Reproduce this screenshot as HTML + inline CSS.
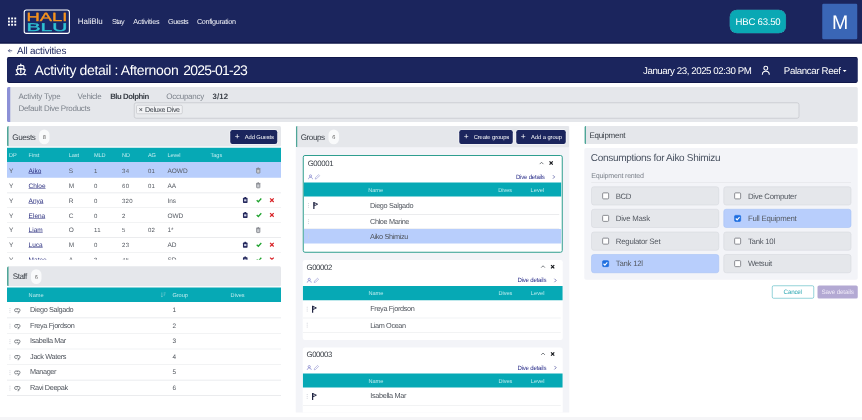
<!DOCTYPE html>
<html lang="en">
<head>
<meta charset="utf-8">
<title>Activity detail</title>
<style>
*{box-sizing:border-box;margin:0;padding:0}
html,body{width:862px;height:420px;overflow:hidden;background:#fff}
#pg{left:0;top:0;width:3448px;height:1680px;transform:scale(0.25);transform-origin:0 0}
body{font-family:"Liberation Sans",sans-serif;text-rendering:geometricPrecision;color:#4a4f57;position:relative;font-size:25.2px;line-height:1}
div{position:absolute}
.t{position:absolute;white-space:pre;line-height:1}
svg{display:block;position:absolute;overflow:visible}
#nav{background:#1b255d;border-bottom:4.8px solid #0c1342;color:#f4f5fa}
#title{background:#1b255d;border-radius:9.6px;color:#fff;box-shadow:inset 0 4px 0 #10184a,inset 0 -4px 0 #10184a}
#info{background:#e5e7eb;border-left:14.4px solid #8c90d6;border-radius:6px;color:#7d838c}
#info .b{color:#3b4048}
#sel{border:2.8px solid #b4b7bd;border-radius:8.8px;background:#e8eaed}
#tag{border:2px solid #b4b6ba;border-radius:5.6px;background:#f1f2f4}
.ph{background:#e5e7eb;border-left:7.2px solid #4fa698;border-radius:6px;color:#3b4048}
.badge{border-radius:21.2px;background:#f9fafb;color:#666}
.btn{border-radius:8.8px;background:#1b255d;color:#fff;box-shadow:0 0 0 3.2px #f4f5f8}
.th{background:#06a9b5;color:#bdebee}
.ln{background:#e4e6e9;height:2.4px}
.hl{background:#b8cefc}
a.t{color:#2b2f7f;text-decoration:underline}
#left{overflow:hidden;color:#565b63}
.s{color:#4f545c}
#mid{background:#f3f4f8;overflow:hidden;color:#4f545c}
.gt{color:#3b4048}
.dd{color:#2b2f8a}
.card{background:#fff;border-radius:8.8px;overflow:hidden}
.card.sel{border:4.8px solid #2f9e8f}
#eqp{background:#f3f4f8;border-radius:8px}
.eq{border-radius:10.4px;background:#e5e7eb;border:2px solid #d2d5da}
.eq.on{background:#b8cefc;border-color:#9fbdf5}
.cb{border:3.6px solid #696c73;border-radius:5.2px;background:#fff}
.eq.on .cb{background:#1f6fe0;border-color:#1f6fe0}
#right{color:#555a62}
#foot{background:#f5f5f7}
</style>
</head>
<body>
<div id="pg">
<div id="nav" style="left:0px;top:0px;width:3448px;height:173.6px;"><svg style="left:31.6px;top:70px" width="32.8" height="32.8" viewBox="0 0 8.2 8.2"><g fill="#fff"><rect x="0" y="0" width="1.9" height="1.9"/><rect x="3.15" y="0" width="1.9" height="1.9"/><rect x="6.3" y="0" width="1.9" height="1.9"/><rect x="0" y="3.15" width="1.9" height="1.9"/><rect x="3.15" y="3.15" width="1.9" height="1.9"/><rect x="6.3" y="3.15" width="1.9" height="1.9"/><rect x="0" y="6.3" width="1.9" height="1.9"/><rect x="3.15" y="6.3" width="1.9" height="1.9"/><rect x="6.3" y="6.3" width="1.9" height="1.9"/></g></svg>
<svg style="left:94.4px;top:36.8px" width="186.4" height="99.2" viewBox="0 0 46.6 24.8">
<rect x=".7" y=".7" width="45.2" height="23.4" rx="2.2" fill="#1a2866" stroke="#fff" stroke-width="1.1"/>
<text x="3.1" y="11.7" font-family="Liberation Sans, sans-serif" font-size="11.9" fill="#f7931e" stroke="#f7931e" stroke-width=".35" textLength="40.8" lengthAdjust="spacingAndGlyphs">HALI</text>
<text x="3.1" y="21.6" font-family="Liberation Sans, sans-serif" font-size="11.4" fill="#2fc3d4" stroke="#2fc3d4" stroke-width=".35" textLength="40.8" lengthAdjust="spacingAndGlyphs">BLU</text>
</svg>
<span class="t" style="left:311.2px;top:69px;font-size:32px;letter-spacing:-0.24px">HaliBlu</span>
<span class="t" style="left:447.6px;top:73px;font-size:28.8px;letter-spacing:-2.16px">Stay</span>
<span class="t" style="left:532.8px;top:73px;font-size:28.8px;letter-spacing:-0.92px">Activities</span>
<span class="t" style="left:672px;top:73px;font-size:28.8px;letter-spacing:-1.68px">Guests</span>
<span class="t" style="left:787.6px;top:73px;font-size:28.8px;letter-spacing:-1.28px">Configuration</span>
<div style="left:2920.4px;top:40.4px;width:222.4px;height:91.6px;border-radius:28px;background:#0aa8b4;box-shadow:0 0 0 1.2px #3fbcc5"><span class="t" style="left:22px;top:29px;font-size:38.4px;letter-spacing:-0.92px;color:#fff">HBC 63.50</span>
</div>
<div style="left:3288.8px;top:15.2px;width:140px;height:142px;background:#3a66b6;border-radius:4.8px"><span class="t" style="left:39.2px;top:34.8px;font-size:78px;letter-spacing:-5.84px;color:#fff">M</span>
</div>
</div>

<svg style="left:32px;top:194.8px" width="17.6" height="16" viewBox="0 0 11 10"><path d="M5 1 L1 5 L5 9 M1 5 H10.5" fill="none" stroke="#1b255d" stroke-width="1.6"/></svg>
<span class="t" style="left:68px;top:184px;font-size:39.6px;letter-spacing:-0.72px;color:#1b255d">All activities</span>

<div id="title" style="left:28px;top:228px;width:3403.2px;height:104px;"><svg style="left:30px;top:24.8px" width="50.4" height="51.2" viewBox="0 0 24 24"><g fill="none" stroke="#fff" stroke-width="2.3" stroke-linecap="round" stroke-linejoin="round"><path d="M12 1.5v3"/><path d="M6.2 11V6.3c0-1 .8-1.8 1.8-1.8h8c1 0 1.8.8 1.8 1.8V11"/><path d="M12 9.5l8.5 3-2.4 6.5M12 9.5l-8.5 3 2.4 6.5M12 10v8"/><path d="M2.5 21.5c1.6 0 3.2-.7 4.7-2 1.5 1.3 3.1 2 4.8 2s3.3-.7 4.8-2c1.5 1.3 3.1 2 4.7 2"/></g></svg><span class="t" style="left:110px;top:25px;font-size:56px;letter-spacing:-1.4px">Activity detail : Afternoon </span>
<span class="t" style="left:704.8px;top:25px;font-size:56px;letter-spacing:-3.12px">2025-01-23</span>
<span class="t" style="left:2544px;top:37px;font-size:38.8px;letter-spacing:-1.72px">January 23, 2025 02:30 PM</span>
<svg style="left:3018.4px;top:34px" width="34.4" height="39.2" viewBox="0 0 16 18"><g fill="none" stroke="#fff" stroke-width="2"><circle cx="8" cy="5" r="3.6"/><path d="M1.5 17c0-4.5 3-6.5 6.5-6.5s6.5 2 6.5 6.5"/></g></svg><span class="t" style="left:3107.2px;top:37px;font-size:38.8px;letter-spacing:-1.44px">Palancar Reef</span>
<svg style="left:3342.8px;top:51.6px" width="15.2" height="8.4" viewBox="0 0 8 4"><path d="M0 0h8L4 4z" fill="#fff"/></svg></div>

<div id="info" style="left:28px;top:348px;width:3403.2px;height:140px;"><span class="t" style="left:31.6px;top:21px;font-size:32px;letter-spacing:-0.8px">Activity Type</span>
<span class="t" style="left:268.4px;top:21px;font-size:32px;letter-spacing:-1.12px">Vehicle</span>
<span class="t b" style="left:398.8px;top:22px;font-size:31.2px;letter-spacing:-1.88px;font-weight:700">Blu Dolphin</span>
<span class="t" style="left:623.2px;top:21px;font-size:32px;letter-spacing:-1.08px">Occupancy</span>
<span class="t b" style="left:808.4px;top:22px;font-size:31.2px;letter-spacing:0.44px;font-weight:700">3/12</span>
<span class="t" style="left:31.6px;top:69px;font-size:32px;letter-spacing:-1.04px">Default Dive Products</span>
<div id="sel" style="left:493.6px;top:62px;width:2661.6px;height:64px;"><div id="tag" style="left:7.2px;top:8px;width:185.6px;height:36.4px;"><span class="t" style="left:8px;top:3px;font-size:28px;color:#3b4048">× </span>
<span class="t" style="left:33.2px;top:3px;font-size:28.4px;letter-spacing:-1.28px;color:#3b4048">Deluxe Dive</span>
</div>
</div>
</div>

<div id="left" style="left:28px;top:504px;width:1096px;height:1146px;"><div class="ph" style="left:0px;top:0px;width:1096px;height:82px;"><span class="t" style="left:14.4px;top:29px;font-size:32.4px;letter-spacing:-1.72px">Guests</span>
<div class="badge" style="left:120.8px;top:13.6px;width:42.4px;height:59.2px;"><span class="t" style="left:14.8px;top:20.4px;font-size:22.4px">8</span>
</div>
<div class="btn" style="left:885.6px;top:15.6px;width:188px;height:56px;"><span class="t" style="left:18.4px;top:9.4px;font-size:33.6px">+ </span>
<span class="t" style="left:58.8px;top:17.4px;font-size:23px;letter-spacing:-0.4px">Add Guests</span>
</div>
</div>
<div class="th" style="left:0px;top:86.8px;width:1096px;height:57.2px;"><span class="t" style="left:8px;top:19.2px;font-size:22.4px;letter-spacing:-0.64px">DP</span>
<span class="t" style="left:86.4px;top:19.2px;font-size:22.4px;letter-spacing:-0.2px">First</span>
<span class="t" style="left:246.8px;top:19.2px;font-size:22.4px;letter-spacing:-0.28px">Last</span>
<span class="t" style="left:348px;top:19.2px;font-size:22.4px;letter-spacing:-0.48px">MLD</span>
<span class="t" style="left:460px;top:19.2px;font-size:22.4px;letter-spacing:-0.64px">ND</span>
<span class="t" style="left:563.6px;top:19.2px;font-size:22.4px;letter-spacing:-0.64px">AG</span>
<span class="t" style="left:641.6px;top:19.2px;font-size:22.4px;letter-spacing:-0.28px">Level</span>
<span class="t" style="left:814.4px;top:19.2px;font-size:22.4px;letter-spacing:-0.32px">Tags</span>
</div>
<div style="left:0px;top:144px;width:1096px;height:390.8px;overflow:hidden"><div class="hl" style="left:0px;top:0px;width:1096px;height:62.8px;"></div>
<span class="t" style="left:8px;top:22px;font-size:26px">Y</span>
<a class="t" style="left:86.4px;top:22px;font-size:26px">Aiko</a>
<span class="t" style="left:246.8px;top:22px;font-size:26px">S</span>
<span class="t" style="left:348px;top:25px;font-size:24px;letter-spacing:0.68px">1</span>
<span class="t" style="left:460px;top:25px;font-size:24px;letter-spacing:1.32px">34</span>
<span class="t" style="left:563.6px;top:25px;font-size:24px;letter-spacing:1.32px">01</span>
<span class="t" style="left:641.6px;top:22px;font-size:26px">AOWD</span>
<svg style="left:995.2px;top:22px" width="20" height="23.2" viewBox="0 0 9 11"><path d="M1.4 3.2h6.2v6.5a.9.9 0 0 1-.9.9H2.3a.9.9 0 0 1-.9-.9z" fill="#c9cbd0" stroke="#777a81" stroke-width="1.4"/><path d="M.3 2.2h8.4M3.1 .9h2.8" stroke="#777a81" stroke-width="1.4" fill="none"/></svg><span class="t" style="left:8px;top:82px;font-size:26px">Y</span>
<a class="t" style="left:86.4px;top:82px;font-size:26px">Chloe</a>
<span class="t" style="left:246.8px;top:82px;font-size:26px">M</span>
<span class="t" style="left:348px;top:85px;font-size:24px;letter-spacing:0.68px">0</span>
<span class="t" style="left:460px;top:85px;font-size:24px;letter-spacing:1.32px">60</span>
<span class="t" style="left:563.6px;top:85px;font-size:24px;letter-spacing:1.32px">01</span>
<span class="t" style="left:641.6px;top:82px;font-size:26px">AA</span>
<svg style="left:995.2px;top:81.4px" width="20" height="23.2" viewBox="0 0 9 11"><path d="M1.4 3.2h6.2v6.5a.9.9 0 0 1-.9.9H2.3a.9.9 0 0 1-.9-.9z" fill="#c9cbd0" stroke="#777a81" stroke-width="1.4"/><path d="M.3 2.2h8.4M3.1 .9h2.8" stroke="#777a81" stroke-width="1.4" fill="none"/></svg><div class="ln" style="left:0px;top:122.2px;width:1096px;height:2.4px;"></div>
<span class="t" style="left:8px;top:142px;font-size:26px">Y</span>
<a class="t" style="left:86.4px;top:142px;font-size:26px">Anya</a>
<span class="t" style="left:246.8px;top:142px;font-size:26px">R</span>
<span class="t" style="left:348px;top:145px;font-size:24px;letter-spacing:0.68px">0</span>
<span class="t" style="left:460px;top:145px;font-size:24px;letter-spacing:1px">320</span>
<span class="t" style="left:641.6px;top:142px;font-size:26px">Ins</span>
<svg style="left:942.8px;top:140.4px" width="20" height="24" viewBox="0 0 9 11"><rect x=".3" y="1.6" width="8.4" height="9.2" rx="1.2" fill="#262a5e"/><rect x="2.8" y=".2" width="3.4" height="2.6" rx=".6" fill="#262a5e"/><rect x="2.4" y="4.3" width="4.2" height="3.6" fill="#cfd2e6"/></svg><svg style="left:996px;top:142.8px" width="24" height="19.2" viewBox="0 0 12 10"><path d="M1.2 5.2l3.4 3.2 6.2-6.8" fill="none" stroke="#1fa32e" stroke-width="2.6"/></svg><svg style="left:1049.6px;top:142.8px" width="19.2" height="19.2" viewBox="0 0 10 10"><path d="M1.2 1.2l7.6 7.6M8.8 1.2l-7.6 7.6" fill="none" stroke="#d9252a" stroke-width="2.6"/></svg><div class="ln" style="left:0px;top:181.6px;width:1096px;height:2.4px;"></div>
<span class="t" style="left:8px;top:202px;font-size:26px">Y</span>
<a class="t" style="left:86.4px;top:202px;font-size:26px">Elena</a>
<span class="t" style="left:246.8px;top:202px;font-size:26px">C</span>
<span class="t" style="left:348px;top:205px;font-size:24px;letter-spacing:0.68px">0</span>
<span class="t" style="left:460px;top:205px;font-size:24px;letter-spacing:0.68px">2</span>
<span class="t" style="left:641.6px;top:202px;font-size:26px">OWD</span>
<svg style="left:942.8px;top:199.8px" width="20" height="24" viewBox="0 0 9 11"><rect x=".3" y="1.6" width="8.4" height="9.2" rx="1.2" fill="#262a5e"/><rect x="2.8" y=".2" width="3.4" height="2.6" rx=".6" fill="#262a5e"/><rect x="2.4" y="4.3" width="4.2" height="3.6" fill="#cfd2e6"/></svg><svg style="left:996px;top:202.2px" width="24" height="19.2" viewBox="0 0 12 10"><path d="M1.2 5.2l3.4 3.2 6.2-6.8" fill="none" stroke="#1fa32e" stroke-width="2.6"/></svg><svg style="left:1049.6px;top:202.2px" width="19.2" height="19.2" viewBox="0 0 10 10"><path d="M1.2 1.2l7.6 7.6M8.8 1.2l-7.6 7.6" fill="none" stroke="#d9252a" stroke-width="2.6"/></svg><div class="ln" style="left:0px;top:241px;width:1096px;height:2.4px;"></div>
<span class="t" style="left:8px;top:258px;font-size:26px">Y</span>
<a class="t" style="left:86.4px;top:258px;font-size:26px">Liam</a>
<span class="t" style="left:246.8px;top:258px;font-size:26px">O</span>
<span class="t" style="left:348px;top:261px;font-size:24px;letter-spacing:1.24px">11</span>
<span class="t" style="left:460px;top:261px;font-size:24px;letter-spacing:0.68px">5</span>
<span class="t" style="left:563.6px;top:261px;font-size:24px;letter-spacing:1.32px">02</span>
<span class="t" style="left:641.6px;top:258px;font-size:26px">1*</span>
<svg style="left:995.2px;top:259.6px" width="20" height="23.2" viewBox="0 0 9 11"><path d="M1.4 3.2h6.2v6.5a.9.9 0 0 1-.9.9H2.3a.9.9 0 0 1-.9-.9z" fill="#c9cbd0" stroke="#777a81" stroke-width="1.4"/><path d="M.3 2.2h8.4M3.1 .9h2.8" stroke="#777a81" stroke-width="1.4" fill="none"/></svg><div class="ln" style="left:0px;top:300.4px;width:1096px;height:2.4px;"></div>
<span class="t" style="left:8px;top:318px;font-size:26px">Y</span>
<a class="t" style="left:86.4px;top:318px;font-size:26px">Luca</a>
<span class="t" style="left:246.8px;top:318px;font-size:26px">M</span>
<span class="t" style="left:348px;top:321px;font-size:24px;letter-spacing:0.68px">0</span>
<span class="t" style="left:460px;top:321px;font-size:24px;letter-spacing:1.32px">23</span>
<span class="t" style="left:641.6px;top:318px;font-size:26px">AD</span>
<svg style="left:942.8px;top:318.6px" width="20" height="24" viewBox="0 0 9 11"><rect x=".3" y="1.6" width="8.4" height="9.2" rx="1.2" fill="#262a5e"/><rect x="2.8" y=".2" width="3.4" height="2.6" rx=".6" fill="#262a5e"/><rect x="2.4" y="4.3" width="4.2" height="3.6" fill="#cfd2e6"/></svg><svg style="left:996px;top:321px" width="24" height="19.2" viewBox="0 0 12 10"><path d="M1.2 5.2l3.4 3.2 6.2-6.8" fill="none" stroke="#1fa32e" stroke-width="2.6"/></svg><svg style="left:1049.6px;top:321px" width="19.2" height="19.2" viewBox="0 0 10 10"><path d="M1.2 1.2l7.6 7.6M8.8 1.2l-7.6 7.6" fill="none" stroke="#d9252a" stroke-width="2.6"/></svg><div class="ln" style="left:0px;top:359.8px;width:1096px;height:2.4px;"></div>
<span class="t" style="left:8px;top:378px;font-size:26px">Y</span>
<a class="t" style="left:86.4px;top:378px;font-size:26px">Mateo</a>
<span class="t" style="left:246.8px;top:378px;font-size:26px">A</span>
<span class="t" style="left:348px;top:381px;font-size:24px;letter-spacing:0.68px">3</span>
<span class="t" style="left:460px;top:381px;font-size:24px;letter-spacing:1.32px">45</span>
<span class="t" style="left:641.6px;top:378px;font-size:26px">SD</span>
<svg style="left:942.8px;top:378px" width="20" height="24" viewBox="0 0 9 11"><rect x=".3" y="1.6" width="8.4" height="9.2" rx="1.2" fill="#262a5e"/><rect x="2.8" y=".2" width="3.4" height="2.6" rx=".6" fill="#262a5e"/><rect x="2.4" y="4.3" width="4.2" height="3.6" fill="#cfd2e6"/></svg><svg style="left:996px;top:380.4px" width="24" height="19.2" viewBox="0 0 12 10"><path d="M1.2 5.2l3.4 3.2 6.2-6.8" fill="none" stroke="#1fa32e" stroke-width="2.6"/></svg><svg style="left:1049.6px;top:380.4px" width="19.2" height="19.2" viewBox="0 0 10 10"><path d="M1.2 1.2l7.6 7.6M8.8 1.2l-7.6 7.6" fill="none" stroke="#d9252a" stroke-width="2.6"/></svg><div class="ln" style="left:0px;top:419.2px;width:1096px;height:2.4px;"></div>
</div>
<div class="ph" style="left:0px;top:560.8px;width:1096px;height:80px;"><span class="t" style="left:16.4px;top:24.2px;font-size:32.4px;letter-spacing:-2.2px">Staff</span>
<div class="badge" style="left:88.8px;top:12px;width:42.4px;height:59.2px;"><span class="t" style="left:14.8px;top:21.2px;font-size:22.4px">6</span>
</div>
</div>
<div class="th" style="left:0px;top:646.4px;width:1096px;height:57.2px;"><span class="t" style="left:86.4px;top:19.6px;font-size:22.4px">Name</span>
<svg style="left:613.6px;top:17.6px" width="21.6" height="21.6" viewBox="0 0 12 12"><g fill="none" stroke="#7fd0d6" stroke-width="1.4"><path d="M3 1v10M1 9l2 2 2-2M7 2h4.5M7 5h3.5M7 8h2.2"/></g></svg><span class="t" style="left:661.6px;top:19.6px;font-size:22.4px">Group</span>
<span class="t" style="left:894.4px;top:19.6px;font-size:22.4px">Dives</span>
</div>
<div class="s" style="left:0;top:0;width:1096px;height:0"><svg style="left:9.2px;top:728.4px" width="5.6" height="19.2" viewBox="0 0 2 10"><g fill="#cfd2d9"><rect y="0" width="2" height="2"/><rect y="4" width="2" height="2"/><rect y="8" width="2" height="2"/></g></svg><svg style="left:28.4px;top:728.4px" width="26.4" height="21.6" viewBox="0 0 13 10"><g fill="none" stroke="#474c54" stroke-width="1.3" stroke-linejoin="round"><path d="M3.6 1.2h5.8c1.4 0 2.4 1 2.4 2.4v1c0 1.4-1 2.4-2.4 2.4H8L6.5 5.5 5 7H3.6C2.2 7 1.2 6 1.2 4.6v-1c0-1.4 1-2.4 2.4-2.4z"/><path d="M6.5 1.2v2.2M9.5 7.2v1.4c0 .6-.5 1-1.1 1H7"/></g></svg><span class="t" style="left:92.4px;top:721px;font-size:29.2px;letter-spacing:-1.44px">Diego Salgado</span>
<span class="t" style="left:662.4px;top:724px;font-size:25.6px">1</span>
<div class="ln" style="left:0px;top:766.4px;width:1096px;height:2.4px;"></div>
<svg style="left:9.2px;top:790.6px" width="5.6" height="19.2" viewBox="0 0 2 10"><g fill="#cfd2d9"><rect y="0" width="2" height="2"/><rect y="4" width="2" height="2"/><rect y="8" width="2" height="2"/></g></svg><svg style="left:28.4px;top:790.6px" width="26.4" height="21.6" viewBox="0 0 13 10"><g fill="none" stroke="#474c54" stroke-width="1.3" stroke-linejoin="round"><path d="M3.6 1.2h5.8c1.4 0 2.4 1 2.4 2.4v1c0 1.4-1 2.4-2.4 2.4H8L6.5 5.5 5 7H3.6C2.2 7 1.2 6 1.2 4.6v-1c0-1.4 1-2.4 2.4-2.4z"/><path d="M6.5 1.2v2.2M9.5 7.2v1.4c0 .6-.5 1-1.1 1H7"/></g></svg><span class="t" style="left:92.4px;top:785px;font-size:29.2px;letter-spacing:-1.36px">Freya Fjordson</span>
<span class="t" style="left:662.4px;top:788px;font-size:25.6px">2</span>
<div class="ln" style="left:0px;top:828.6px;width:1096px;height:2.4px;"></div>
<svg style="left:9.2px;top:852.8px" width="5.6" height="19.2" viewBox="0 0 2 10"><g fill="#cfd2d9"><rect y="0" width="2" height="2"/><rect y="4" width="2" height="2"/><rect y="8" width="2" height="2"/></g></svg><svg style="left:28.4px;top:852.8px" width="26.4" height="21.6" viewBox="0 0 13 10"><g fill="none" stroke="#474c54" stroke-width="1.3" stroke-linejoin="round"><path d="M3.6 1.2h5.8c1.4 0 2.4 1 2.4 2.4v1c0 1.4-1 2.4-2.4 2.4H8L6.5 5.5 5 7H3.6C2.2 7 1.2 6 1.2 4.6v-1c0-1.4 1-2.4 2.4-2.4z"/><path d="M6.5 1.2v2.2M9.5 7.2v1.4c0 .6-.5 1-1.1 1H7"/></g></svg><span class="t" style="left:92.4px;top:845px;font-size:29.2px;letter-spacing:-1.32px">Isabella Mar</span>
<span class="t" style="left:662.4px;top:848px;font-size:25.6px">3</span>
<div class="ln" style="left:0px;top:890.8px;width:1096px;height:2.4px;"></div>
<svg style="left:9.2px;top:915px" width="5.6" height="19.2" viewBox="0 0 2 10"><g fill="#cfd2d9"><rect y="0" width="2" height="2"/><rect y="4" width="2" height="2"/><rect y="8" width="2" height="2"/></g></svg><svg style="left:28.4px;top:915px" width="26.4" height="21.6" viewBox="0 0 13 10"><g fill="none" stroke="#474c54" stroke-width="1.3" stroke-linejoin="round"><path d="M3.6 1.2h5.8c1.4 0 2.4 1 2.4 2.4v1c0 1.4-1 2.4-2.4 2.4H8L6.5 5.5 5 7H3.6C2.2 7 1.2 6 1.2 4.6v-1c0-1.4 1-2.4 2.4-2.4z"/><path d="M6.5 1.2v2.2M9.5 7.2v1.4c0 .6-.5 1-1.1 1H7"/></g></svg><span class="t" style="left:92.4px;top:909px;font-size:29.2px;letter-spacing:-1.44px">Jack Waters</span>
<span class="t" style="left:662.4px;top:912px;font-size:25.6px">4</span>
<div class="ln" style="left:0px;top:953px;width:1096px;height:2.4px;"></div>
<svg style="left:9.2px;top:977.2px" width="5.6" height="19.2" viewBox="0 0 2 10"><g fill="#cfd2d9"><rect y="0" width="2" height="2"/><rect y="4" width="2" height="2"/><rect y="8" width="2" height="2"/></g></svg><svg style="left:28.4px;top:977.2px" width="26.4" height="21.6" viewBox="0 0 13 10"><g fill="none" stroke="#474c54" stroke-width="1.3" stroke-linejoin="round"><path d="M3.6 1.2h5.8c1.4 0 2.4 1 2.4 2.4v1c0 1.4-1 2.4-2.4 2.4H8L6.5 5.5 5 7H3.6C2.2 7 1.2 6 1.2 4.6v-1c0-1.4 1-2.4 2.4-2.4z"/><path d="M6.5 1.2v2.2M9.5 7.2v1.4c0 .6-.5 1-1.1 1H7"/></g></svg><span class="t" style="left:92.4px;top:969px;font-size:29.2px;letter-spacing:-1.72px">Manager</span>
<span class="t" style="left:662.4px;top:972px;font-size:25.6px">5</span>
<div class="ln" style="left:0px;top:1015.2px;width:1096px;height:2.4px;"></div>
<svg style="left:9.2px;top:1039.4px" width="5.6" height="19.2" viewBox="0 0 2 10"><g fill="#cfd2d9"><rect y="0" width="2" height="2"/><rect y="4" width="2" height="2"/><rect y="8" width="2" height="2"/></g></svg><svg style="left:28.4px;top:1039.4px" width="26.4" height="21.6" viewBox="0 0 13 10"><g fill="none" stroke="#474c54" stroke-width="1.3" stroke-linejoin="round"><path d="M3.6 1.2h5.8c1.4 0 2.4 1 2.4 2.4v1c0 1.4-1 2.4-2.4 2.4H8L6.5 5.5 5 7H3.6C2.2 7 1.2 6 1.2 4.6v-1c0-1.4 1-2.4 2.4-2.4z"/><path d="M6.5 1.2v2.2M9.5 7.2v1.4c0 .6-.5 1-1.1 1H7"/></g></svg><span class="t" style="left:92.4px;top:1033px;font-size:29.2px;letter-spacing:-1.52px">Ravi Deepak</span>
<span class="t" style="left:662.4px;top:1036px;font-size:25.6px">6</span>
<div class="ln" style="left:0px;top:1077.4px;width:1096px;height:2.4px;"></div>
</div></div>

<div id="mid" style="left:1182.8px;top:504px;width:1094px;height:1146px;"><div class="ph" style="left:0px;top:0px;width:1094px;height:84.8px;"><span class="t" style="left:13.2px;top:29px;font-size:32.4px;letter-spacing:-1.8px">Groups</span>
<div class="badge" style="left:124px;top:13.6px;width:42.4px;height:59.2px;"><span class="t" style="left:14.8px;top:20.4px;font-size:22.4px">6</span>
</div>
<div class="btn" style="left:646.8px;top:15.6px;width:214.4px;height:56px;"><span class="t" style="left:18.4px;top:9.4px;font-size:33.6px">+ </span>
<span class="t" style="left:58px;top:17.4px;font-size:23px;letter-spacing:-0.28px">Create groups</span>
</div>
<div class="btn" style="left:874.8px;top:15.6px;width:198px;height:56px;"><span class="t" style="left:18.4px;top:9.4px;font-size:33.6px">+ </span>
<span class="t" style="left:59.2px;top:17.4px;font-size:23px;letter-spacing:-0.12px">Add a group</span>
</div>
</div>
<div class="card sel" style="left:28px;top:116px;width:1040px;height:390.8px;"><span class="t gt" style="left:16px;top:13.2px;font-size:31.2px;letter-spacing:-1.56px">G00001</span>
<svg style="left:17.2px;top:72.8px" width="20" height="21.2" viewBox="0 0 10 10"><g fill="none" stroke="#6d6fc2" stroke-width="1.2"><circle cx="5" cy="3" r="2.2"/><path d="M1 9.5c0-2.6 1.8-3.8 4-3.8s4 1.2 4 3.8"/></g></svg><svg style="left:43.6px;top:72.8px" width="22.8" height="21.2" viewBox="0 0 10 10"><path d="M1 9l.6-2.6 5.6-5.6 2 2-5.6 5.6z" fill="none" stroke="#8f91cf" stroke-width="1.1"/></svg><svg style="left:942px;top:22.8px" width="18.4" height="11.6" viewBox="0 0 10 6"><path d="M1 5l4-4 4 4" fill="none" stroke="#3b4048" stroke-width="1.5"/></svg><svg style="left:980px;top:19.2px" width="19.2" height="18.4" viewBox="0 0 10 10"><path d="M1.5 1.5l7 7M8.5 1.5l-7 7" fill="none" stroke="#15171c" stroke-width="2.6"/></svg><span class="t dd" style="left:848.8px;top:72.2px;font-size:24.4px;letter-spacing:-0.92px">Dive details</span>
<svg style="left:995.2px;top:74.8px" width="10.4" height="17.6" viewBox="0 0 6 10"><path d="M1 1l4 4-4 4" fill="none" stroke="#2b2f8a" stroke-width="1.4"/></svg><div class="th" style="left:0px;top:106px;width:1030.4px;height:56.4px;"><span class="t" style="left:258px;top:19.2px;font-size:22.4px">Name</span>
<span class="t" style="left:778.4px;top:19.2px;font-size:22.4px;letter-spacing:-0.2px">Dives</span>
<span class="t" style="left:907.2px;top:19.2px;font-size:22.4px;letter-spacing:0.4px">Level</span>
</div>
<svg style="left:16.4px;top:188.4px" width="5.6" height="19.2" viewBox="0 0 2 10"><g fill="#cfd2d9"><rect y="0" width="2" height="2"/><rect y="4" width="2" height="2"/><rect y="8" width="2" height="2"/></g></svg><svg style="left:37.2px;top:181.2px" width="21.6" height="34.4" viewBox="0 0 10 14"><path d="M1.6 .6v13" stroke="#1d2140" stroke-width="2.2" fill="none"/><path d="M2.4 1.6l6.2 2.9-6.2 2.9z" fill="#fff" stroke="#1d2140" stroke-width="1.7" stroke-linejoin="round"/></svg><span class="t" style="left:265.2px;top:184.2px;font-size:29.2px;letter-spacing:-1.44px">Diego Salgado</span>
<div class="ln" style="left:0px;top:232.4px;width:1022.4px;height:2.4px;"></div>
<svg style="left:16.4px;top:253px" width="5.6" height="19.2" viewBox="0 0 2 10"><g fill="#cfd2d9"><rect y="0" width="2" height="2"/><rect y="4" width="2" height="2"/><rect y="8" width="2" height="2"/></g></svg><span class="t" style="left:265.2px;top:248.2px;font-size:29.2px;letter-spacing:-1.44px">Chloe Marine</span>
<div class="ln" style="left:0px;top:290.4px;width:1022.4px;height:2.4px;"></div>
<div class="hl" style="left:0px;top:291.6px;width:1030.4px;height:58px;"></div>
<svg style="left:16.4px;top:311px" width="5.6" height="19.2" viewBox="0 0 2 10"><g fill="#cfd2d9"><rect y="0" width="2" height="2"/><rect y="4" width="2" height="2"/><rect y="8" width="2" height="2"/></g></svg><span class="t" style="left:265.2px;top:308.2px;font-size:29.2px;letter-spacing:-1.4px">Aiko Shimizu</span>
</div>
<div class="card" style="left:28px;top:536.4px;width:1040px;height:319.6px;"><span class="t gt" style="left:15.2px;top:13.6px;font-size:31.2px;letter-spacing:-1.56px">G00002</span>
<svg style="left:16.4px;top:70.8px" width="20" height="21.2" viewBox="0 0 10 10"><g fill="none" stroke="#6d6fc2" stroke-width="1.2"><circle cx="5" cy="3" r="2.2"/><path d="M1 9.5c0-2.6 1.8-3.8 4-3.8s4 1.2 4 3.8"/></g></svg><svg style="left:42.8px;top:70.8px" width="22.8" height="21.2" viewBox="0 0 10 10"><path d="M1 9l.6-2.6 5.6-5.6 2 2-5.6 5.6z" fill="none" stroke="#8f91cf" stroke-width="1.1"/></svg><svg style="left:952.4px;top:20.8px" width="18.4" height="11.6" viewBox="0 0 10 6"><path d="M1 5l4-4 4 4" fill="none" stroke="#3b4048" stroke-width="1.5"/></svg><svg style="left:990.4px;top:17.2px" width="19.2" height="18.4" viewBox="0 0 10 10"><path d="M1.5 1.5l7 7M8.5 1.5l-7 7" fill="none" stroke="#15171c" stroke-width="2.6"/></svg><span class="t dd" style="left:859.2px;top:68.6px;font-size:24.4px;letter-spacing:-0.92px">Dive details</span>
<svg style="left:1005.6px;top:72.8px" width="10.4" height="17.6" viewBox="0 0 6 10"><path d="M1 1l4 4-4 4" fill="none" stroke="#2b2f8a" stroke-width="1.4"/></svg><div class="th" style="left:0px;top:104px;width:1040px;height:56.4px;"><span class="t" style="left:262.8px;top:17.6px;font-size:22.4px">Name</span>
<span class="t" style="left:783.2px;top:17.6px;font-size:22.4px;letter-spacing:-0.2px">Dives</span>
<span class="t" style="left:912px;top:17.6px;font-size:22.4px;letter-spacing:0.4px">Level</span>
</div>
<svg style="left:15.6px;top:186.4px" width="5.6" height="19.2" viewBox="0 0 2 10"><g fill="#cfd2d9"><rect y="0" width="2" height="2"/><rect y="4" width="2" height="2"/><rect y="8" width="2" height="2"/></g></svg><svg style="left:36.4px;top:179.2px" width="21.6" height="34.4" viewBox="0 0 10 14"><path d="M1.6 .6v13" stroke="#1d2140" stroke-width="2.2" fill="none"/><path d="M2.4 1.6l6.2 2.9-6.2 2.9z" fill="#fff" stroke="#1d2140" stroke-width="1.7" stroke-linejoin="round"/></svg><span class="t" style="left:270px;top:180.6px;font-size:29.2px;letter-spacing:-1.36px">Freya Fjordson</span>
<div class="ln" style="left:0px;top:230.4px;width:1032px;height:2.4px;"></div>
<svg style="left:15.6px;top:251px" width="5.6" height="19.2" viewBox="0 0 2 10"><g fill="#cfd2d9"><rect y="0" width="2" height="2"/><rect y="4" width="2" height="2"/><rect y="8" width="2" height="2"/></g></svg><span class="t" style="left:270px;top:248.6px;font-size:29.2px;letter-spacing:-1.56px">Liam Ocean</span>
<div class="ln" style="left:0px;top:288.4px;width:1032px;height:2.4px;"></div>
</div>
<div class="card" style="left:28px;top:885.6px;width:1040px;height:319.6px;"><span class="t gt" style="left:15.2px;top:12.4px;font-size:31.2px;letter-spacing:-1.56px">G00003</span>
<svg style="left:16.4px;top:70.8px" width="20" height="21.2" viewBox="0 0 10 10"><g fill="none" stroke="#6d6fc2" stroke-width="1.2"><circle cx="5" cy="3" r="2.2"/><path d="M1 9.5c0-2.6 1.8-3.8 4-3.8s4 1.2 4 3.8"/></g></svg><svg style="left:42.8px;top:70.8px" width="22.8" height="21.2" viewBox="0 0 10 10"><path d="M1 9l.6-2.6 5.6-5.6 2 2-5.6 5.6z" fill="none" stroke="#8f91cf" stroke-width="1.1"/></svg><svg style="left:952.4px;top:20.8px" width="18.4" height="11.6" viewBox="0 0 10 6"><path d="M1 5l4-4 4 4" fill="none" stroke="#3b4048" stroke-width="1.5"/></svg><svg style="left:990.4px;top:17.2px" width="19.2" height="18.4" viewBox="0 0 10 10"><path d="M1.5 1.5l7 7M8.5 1.5l-7 7" fill="none" stroke="#15171c" stroke-width="2.6"/></svg><span class="t dd" style="left:859.2px;top:71.4px;font-size:24.4px;letter-spacing:-0.92px">Dive details</span>
<svg style="left:1005.6px;top:72.8px" width="10.4" height="17.6" viewBox="0 0 6 10"><path d="M1 1l4 4-4 4" fill="none" stroke="#2b2f8a" stroke-width="1.4"/></svg><div class="th" style="left:0px;top:104px;width:1040px;height:56.4px;"><span class="t" style="left:262.8px;top:20.4px;font-size:22.4px">Name</span>
<span class="t" style="left:783.2px;top:20.4px;font-size:22.4px;letter-spacing:-0.2px">Dives</span>
<span class="t" style="left:912px;top:20.4px;font-size:22.4px;letter-spacing:0.4px">Level</span>
</div>
<svg style="left:15.6px;top:186.4px" width="5.6" height="19.2" viewBox="0 0 2 10"><g fill="#cfd2d9"><rect y="0" width="2" height="2"/><rect y="4" width="2" height="2"/><rect y="8" width="2" height="2"/></g></svg><svg style="left:36.4px;top:179.2px" width="21.6" height="34.4" viewBox="0 0 10 14"><path d="M1.6 .6v13" stroke="#1d2140" stroke-width="2.2" fill="none"/><path d="M2.4 1.6l6.2 2.9-6.2 2.9z" fill="#fff" stroke="#1d2140" stroke-width="1.7" stroke-linejoin="round"/></svg><span class="t" style="left:270px;top:179.4px;font-size:29.2px;letter-spacing:-1.32px">Isabella Mar</span>
<div class="ln" style="left:0px;top:230.4px;width:1032px;height:2.4px;"></div>
</div>
</div>

<div id="right" style="left:2337.2px;top:504px;width:1094px;height:1144px;"><div class="ph" style="left:0px;top:0px;width:1094px;height:72.4px;"><span class="t" style="left:13.6px;top:21px;font-size:32px;letter-spacing:-1.08px;color:#3b4048">Equipment</span>
</div>
<div id="eqp" style="left:0px;top:88.4px;width:1094px;height:526.8px;"><span class="t" style="left:26px;top:18.6px;font-size:40px;letter-spacing:-1.24px;color:#485160">Consumptions for Aiko Shimizu</span>
<span class="t" style="left:28px;top:96.6px;font-size:28.4px;letter-spacing:-0.88px;color:#7d838c">Equipment rented</span>
<div style="left:28px;top:135.6px;width:1039.2px;height:2.4px;background:#dfe1e5"></div>
<div class="eq" style="left:28px;top:153.6px;width:511.2px;height:74.8px;"><div class="cb" style="left:41.6px;top:22px;width:26.8px;height:26.8px;"></div>
<span class="t" style="left:96px;top:22px;font-size:31.2px;letter-spacing:-1.96px">BCD</span>
</div>
<div class="eq" style="left:556.4px;top:153.6px;width:511.2px;height:74.8px;"><div class="cb" style="left:41.6px;top:22px;width:26.8px;height:26.8px;"></div>
<span class="t" style="left:96px;top:22px;font-size:31.2px;letter-spacing:-1.04px">Dive Computer</span>
</div>
<div class="eq" style="left:28px;top:244px;width:511.2px;height:74.8px;"><div class="cb" style="left:41.6px;top:22px;width:26.8px;height:26.8px;"></div>
<span class="t" style="left:96px;top:19.6px;font-size:31.2px;letter-spacing:-1.08px">Dive Mask</span>
</div>
<div class="eq on" style="left:556.4px;top:244px;width:511.2px;height:74.8px;"><div class="cb" style="left:41.6px;top:22px;width:26.8px;height:26.8px;"><svg style="left:-1.6px;top:-1.6px" width="23.2" height="23.2" viewBox="0 0 10 10"><path d="M1.8 5.2l2.3 2.3 4.2-4.8" fill="none" stroke="#fff" stroke-width="1.9"/></svg></div>
<span class="t" style="left:96px;top:19.6px;font-size:31.2px;letter-spacing:-0.96px">Full Equipment</span>
</div>
<div class="eq" style="left:28px;top:334.4px;width:511.2px;height:74.8px;"><div class="cb" style="left:41.6px;top:22px;width:26.8px;height:26.8px;"></div>
<span class="t" style="left:96px;top:21.2px;font-size:31.2px;letter-spacing:-0.96px">Regulator Set</span>
</div>
<div class="eq" style="left:556.4px;top:334.4px;width:511.2px;height:74.8px;"><div class="cb" style="left:41.6px;top:22px;width:26.8px;height:26.8px;"></div>
<span class="t" style="left:96px;top:21.2px;font-size:31.2px;letter-spacing:-1px">Tank 10l</span>
</div>
<div class="eq on" style="left:28px;top:424.8px;width:511.2px;height:74.8px;"><div class="cb" style="left:41.6px;top:22px;width:26.8px;height:26.8px;"><svg style="left:-1.6px;top:-1.6px" width="23.2" height="23.2" viewBox="0 0 10 10"><path d="M1.8 5.2l2.3 2.3 4.2-4.8" fill="none" stroke="#fff" stroke-width="1.9"/></svg></div>
<span class="t" style="left:96px;top:18.8px;font-size:31.2px;letter-spacing:-1px">Tank 12l</span>
</div>
<div class="eq" style="left:556.4px;top:424.8px;width:511.2px;height:74.8px;"><div class="cb" style="left:41.6px;top:22px;width:26.8px;height:26.8px;"></div>
<span class="t" style="left:96px;top:18.8px;font-size:31.2px;letter-spacing:-1.04px">Wetsuit</span>
</div>
</div>
<div style="left:750.8px;top:638px;width:168px;height:52px;border:2.8px solid #2aa7b2;border-radius:6.4px;background:#fff"><span class="t" style="left:44.4px;top:11.2px;font-size:25.2px;letter-spacing:-0.96px;color:#2aa7b2">Cancel</span>
</div>
<div style="left:932.4px;top:638px;width:161.6px;height:52px;border-radius:6.4px;background:#b3a9d3"><span class="t" style="left:16px;top:14px;font-size:25.2px;letter-spacing:-0.68px;color:#efeaf8">Save details</span>
</div>
</div>

<div id="foot" style="left:0px;top:1667.6px;width:3448px;height:12.4px;"></div>

</div>
</body>
</html>
